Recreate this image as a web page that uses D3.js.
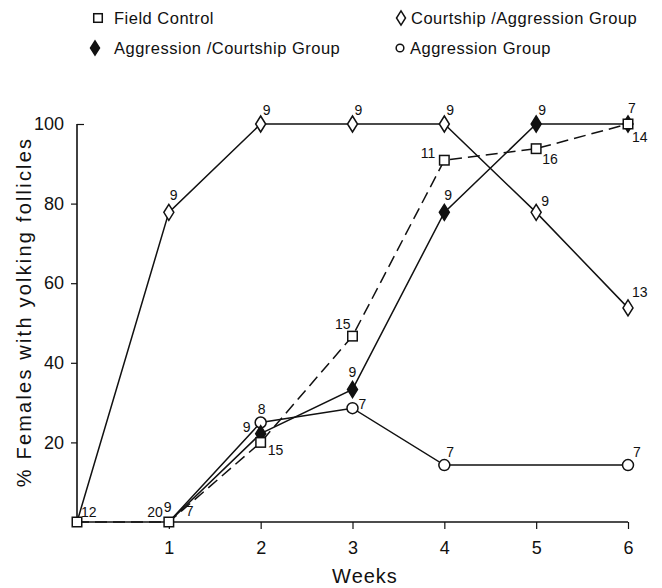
<!DOCTYPE html>
<html>
<head>
<meta charset="utf-8">
<script src="https://cdn.jsdelivr.net/npm/d3@7"></script>
<style>
  html, body { margin: 0; padding: 0; background: #fff; }
  svg text { font-family: "Liberation Sans", Arial, sans-serif; fill: #111; }
</style>
</head>
<body>
<svg id="chart" width="662" height="588"></svg>
<script>
// Weeks of treatment and percentage of females with yolking follicles
const weeks = [0, 1, 2, 3, 4, 5, 6];

const fieldControlWeeks = [0, 1, 2, 3, 4, 5, 6];
const fieldControlPct   = [0, 0, 20, 46.7, 90.9, 93.8, 100];
const fieldControlN     = ["12", "20", "15", "15", "11", "16", "14"];

const courtAggWeeks = [0, 1, 2, 3, 4, 5, 6];
const courtAggPct   = [0, 77.8, 100, 100, 100, 77.8, 53.8];
const courtAggN     = [null, "9", "9", "9", "9", "9", "13"];

const aggCourtWeeks = [1, 2, 3, 4, 5, 6];
const aggCourtPct   = [0, 22.2, 33.3, 77.8, 100, 100];
const aggCourtN     = ["9", "9", "9", "9", "9", "7"];

const aggWeeks = [1, 2, 3, 4, 6];
const aggPct   = [0, 25, 28.6, 14.3, 14.3];
const aggN     = ["7", "8", "7", "7", "7"];

const yTicks = [20, 40, 60, 80, 100];
const xTicks = [1, 2, 3, 4, 5, 6];

// Sample-size label placement next to each marker: [dx, dy, text-anchor]
const fieldControlLabelPos = [[4, -5, "start"], [-6, -5, "end"], [7, 13, "start"], [-2, -7, "end"], [-9, -2, "end"], [6, 15, "start"], [4, 18, "start"]];
const courtAggLabelPos     = [null, [1, -12, "start"], [2, -9, "start"], [2, -9, "start"], [2, -9, "start"], [5, -6, "start"], [4, -11, "start"]];
const aggCourtLabelPos     = [[-5, -10, "start"], [-10, -2, "end"], [0, -12, "middle"], [0, -12, "start"], [2, -9, "start"], [0, -11, "start"]];
const aggLabelPos          = [[17, -6, "start"], [1, -9, "middle"], [6, 1, "start"], [2, -8, "start"], [5, -8, "start"]];

const series = [
  { name: "Courtship /Aggression Group", x: courtAggWeeks, y: courtAggPct, n: courtAggN, pos: courtAggLabelPos, marker: "diamondOpen", dash: null },
  { name: "Aggression Group", x: aggWeeks, y: aggPct, n: aggN, pos: aggLabelPos, marker: "circle", dash: null },
  { name: "Aggression /Courtship Group", x: aggCourtWeeks, y: aggCourtPct, n: aggCourtN, pos: aggCourtLabelPos, marker: "diamondFilled", dash: null },
  { name: "Field Control", x: fieldControlWeeks, y: fieldControlPct, n: fieldControlN, pos: fieldControlLabelPos, marker: "square", dash: "12,6" }
];

const svg = d3.select("#chart");

const x = d3.scaleLinear().domain([0, 6]).range([77, 628]);
const y = d3.scaleLinear().domain([0, 100]).range([522, 124]);

// Axes
const xAxis = svg.append("g").attr("transform", `translate(0,${y(0)})`)
  .call(d3.axisBottom(x).tickValues(xTicks).tickSize(7).tickSizeOuter(0).tickFormat(d3.format("d")));
xAxis.select(".domain").attr("d", `M${x(0)},0H${x(6)}`).attr("stroke", "#111").attr("stroke-width", 1.6);
xAxis.selectAll(".tick line").attr("stroke", "#111").attr("stroke-width", 1.2);
xAxis.selectAll(".tick text").attr("dy", 0).attr("y", 32).style("font-size", "18px");

const yAxis = svg.append("g").attr("transform", `translate(${x(0)},0)`)
  .call(d3.axisLeft(y).tickValues(yTicks).tickSize(6).tickSizeOuter(0).tickFormat(d3.format("d")));
yAxis.select(".domain").attr("d", `M0,${y(100)}V${y(0)}`).attr("stroke", "#111").attr("stroke-width", 1.6);
yAxis.selectAll(".tick line").attr("stroke", "#111").attr("stroke-width", 1.2)
  .attr("x2", d => d === 100 ? 7 : -6);
yAxis.selectAll(".tick text").attr("x", -13).style("font-size", "18px");

svg.append("text")
  .attr("transform", `translate(31,${(y(100) + 500) / 2}) rotate(-90)`)
  .attr("text-anchor", "middle")
  .style("font-size", "20px").style("letter-spacing", "2.2px")
  .text("% Females with yolking follicles");

svg.append("text")
  .attr("x", 365).attr("y", 583)
  .attr("text-anchor", "middle")
  .style("font-size", "20px").style("letter-spacing", "1px")
  .text("Weeks");

// Marker drawing
function drawMarker(g, type, cx, cy, scale = 1) {
  if (type === "square") {
    const s = 9.5 * scale;
    g.append("rect").attr("x", cx - s / 2).attr("y", cy - s / 2).attr("width", s).attr("height", s)
      .attr("fill", "#fff").attr("stroke", "#111").attr("stroke-width", 1.5);
  } else if (type === "circle") {
    g.append("circle").attr("cx", cx).attr("cy", cy).attr("r", 5.5 * scale)
      .attr("fill", "#fff").attr("stroke", "#111").attr("stroke-width", 1.5);
  } else {
    const w = 5 * scale, h = 8 * scale;
    g.append("path").attr("d", `M${cx},${cy - h}L${cx + w},${cy}L${cx},${cy + h}L${cx - w},${cy}Z`)
      .attr("fill", type === "diamondFilled" ? "#111" : "#fff")
      .attr("stroke", "#111").attr("stroke-width", 1.5);
  }
}

const line = d3.line().x(d => x(d[0])).y(d => y(d[1]));

// Lines
series.forEach(s => {
  const pts = s.x.map((w, i) => [w, s.y[i]]);
  svg.append("path").datum(pts)
    .attr("d", line)
    .attr("fill", "none")
    .attr("stroke", "#111")
    .attr("stroke-width", 1.5)
    .attr("stroke-dasharray", s.dash);
});

// Markers: points resting at 0 share the Field Control marker on the axis
const markerLayer = svg.append("g");
series.forEach(s => {
  s.x.forEach((w, i) => {
    if (s.marker !== "square" && s.y[i] === 0) return;
    drawMarker(markerLayer, s.marker, x(w), y(s.y[i]));
  });
});

// Sample-size labels
series.forEach(s => {
  s.x.forEach((w, i) => {
    if (!s.n[i] || !s.pos[i]) return;
    const [dx, dy, anchor] = s.pos[i];
    svg.append("text")
      .attr("x", x(w) + dx).attr("y", y(s.y[i]) + dy)
      .attr("text-anchor", anchor)
      .style("font-size", "14px")
      .text(s.n[i]);
  });
});

// Legend (two columns)
const legendItems = [
  { s: series[3], mx: 98, my: 18, gap: 16 },
  { s: series[0], mx: 401, my: 18, gap: 10 },
  { s: series[2], mx: 95, my: 48, gap: 19 },
  { s: series[1], mx: 400, my: 48, gap: 10 }
];
const legend = svg.append("g");
legendItems.forEach(it => {
  drawMarker(legend, it.s.marker, it.mx, it.my, it.s.marker === "circle" ? 0.7 : 0.9);
  legend.append("text")
    .attr("x", it.mx + it.gap).attr("y", it.my + 6)
    .style("font-size", "16.5px").style("letter-spacing", "0.5px")
    .text(it.s.name);
});
</script>
</body>
</html>
